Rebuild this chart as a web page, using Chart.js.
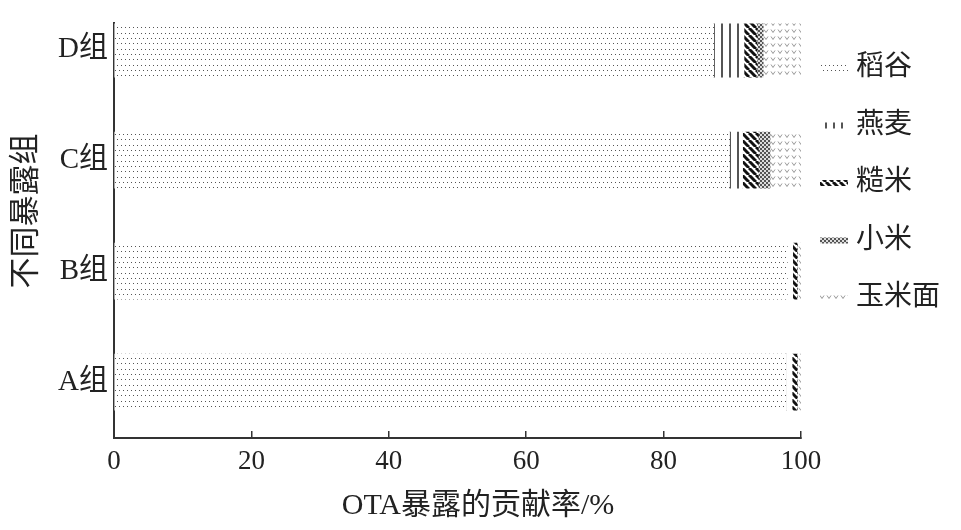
<!DOCTYPE html>
<html>
<head>
<meta charset="utf-8">
<script src="https://cdn.jsdelivr.net/npm/chart.js@4"></script>
<style>
  html, body { margin: 0; background: #fff; }
</style>
</head>
<body>
<canvas id="chart" width="961" height="530"></canvas>
<script>
// 各暴露组（A 在下，D 在上）
const groups = ['A组', 'B组', 'C组', 'D组'];
const foods = ['稻谷', '燕麦', '糙米', '小米', '玉米面'];

// 各食物对 OTA 暴露的贡献率 (%)，顺序 A, B, C, D
const rice      = [97.9, 98.0, 89.6, 87.3];
const oats      = [0.8, 0.8, 1.9, 4.4];
const brownRice = [0.7, 0.6, 2.3, 1.9];
const millet    = [0.1, 0.1, 1.7, 0.9];
const cornMeal  = [0.5, 0.5, 4.5, 5.5];

const xTicks = [0, 20, 40, 60, 80, 100];
const xTitle = 'OTA暴露的贡献率/%';
const yTitle = '不同暴露组';

const FONT = '"Liberation Serif", "Noto Sans CJK SC", serif';
const ctx = document.getElementById('chart').getContext('2d');

// 填充图案
function makePattern(w, h, draw) {
  const c = document.createElement('canvas');
  c.width = w; c.height = h;
  const g = c.getContext('2d');
  g.fillStyle = '#fff';
  g.fillRect(0, 0, w, h);
  draw(g);
  return ctx.createPattern(c, 'repeat');
}

const dots = makePattern(8, 16, g => {
  g.fillStyle = '#555';
  [[1, 1], [5, 1], [3, 6], [7, 6], [1, 11], [5, 11]].forEach(p => g.fillRect(p[0], p[1], 1, 1));
});
const vlines = makePattern(8, 10, g => {
  g.fillStyle = '#555';
  g.fillRect(1, 0, 2, 10);
});
const stripes = makePattern(7, 7, g => {
  g.strokeStyle = '#111';
  g.lineWidth = 3;
  [-7, 0, 7].forEach(x0 => {
    g.beginPath(); g.moveTo(x0, 0); g.lineTo(x0 + 7, 7); g.stroke();
  });
});
const checker = makePattern(4, 4, g => {
  g.fillStyle = '#ddd';
  g.fillRect(0, 0, 4, 4);
  g.fillStyle = '#555';
  g.fillRect(0, 0, 2, 2);
  g.fillRect(2, 2, 2, 2);
});
const vees = makePattern(7, 7, g => {
  g.strokeStyle = '#999';
  g.lineWidth = 1;
  g.beginPath(); g.moveTo(1, 1.5); g.lineTo(3, 4.5); g.lineTo(5, 1.5); g.stroke();
});

const series = [rice, oats, brownRice, millet, cornMeal];
const fills = [dots, vlines, stripes, checker, vees];

// 右侧图例 + 坐标轴标题
const extras = {
  id: 'extras',
  afterDraw(chart) {
    const c = chart.ctx;
    c.save();
    c.font = '28px ' + FONT;
    c.textBaseline = 'middle';
    chart.data.datasets.forEach((ds, i) => {
      const y = 68 + i * 57.5;
      c.fillStyle = ds.backgroundColor;
      c.fillRect(820, y - 3, 28, 6);
      c.fillStyle = '#222';
      c.fillText(ds.label, 856, y);
    });

    c.textAlign = 'center';
    c.font = '30px ' + FONT;
    c.fillText(xTitle, 478, 506);

    c.translate(27, 211);
    c.rotate(-Math.PI / 2);
    c.font = '31px ' + FONT;
    c.fillText(yTitle, 0, 0);
    c.restore();
  }
};

new Chart(ctx, {
  type: 'bar',
  data: {
    datasets: series.map((vals, k) => ({
      label: foods[k],
      data: vals.map((v, i) => ({ x: v, y: i })),
      backgroundColor: fills[k],
      borderWidth: 0,
      barThickness: 56
    }))
  },
  options: {
    indexAxis: 'y',
    responsive: false,
    animation: false,
    devicePixelRatio: 1,
    layout: { padding: { top: 18, right: 160, left: 0, bottom: 0 } },
    plugins: { legend: { display: false }, tooltip: { enabled: false } },
    scales: {
      x: {
        type: 'linear', min: 0, max: 100, stacked: true,
        afterFit: s => { s.height = 92; },
        afterBuildTicks: s => { s.ticks = xTicks.map(v => ({ value: v })); },
        ticks: { color: '#222', font: { family: FONT, size: 27 }, padding: 15 },
        grid: { display: true, drawOnChartArea: false, drawTicks: true, tickLength: -7, color: '#333', lineWidth: 1.5 },
        border: { color: '#333', width: 2 }
      },
      y: {
        type: 'linear', min: -0.503, max: 3.232, stacked: true, offset: false,
        afterFit: s => { s.width = 114; },
        afterBuildTicks: s => { s.ticks = groups.map((g, i) => ({ value: i })); },
        ticks: { color: '#222', font: { family: FONT, size: 29 }, padding: 6, callback: v => groups[v] },
        grid: { display: false, drawTicks: false },
        border: { color: '#333', width: 2 }
      }
    }
  },
  plugins: [extras]
});
</script>
</body>
</html>
